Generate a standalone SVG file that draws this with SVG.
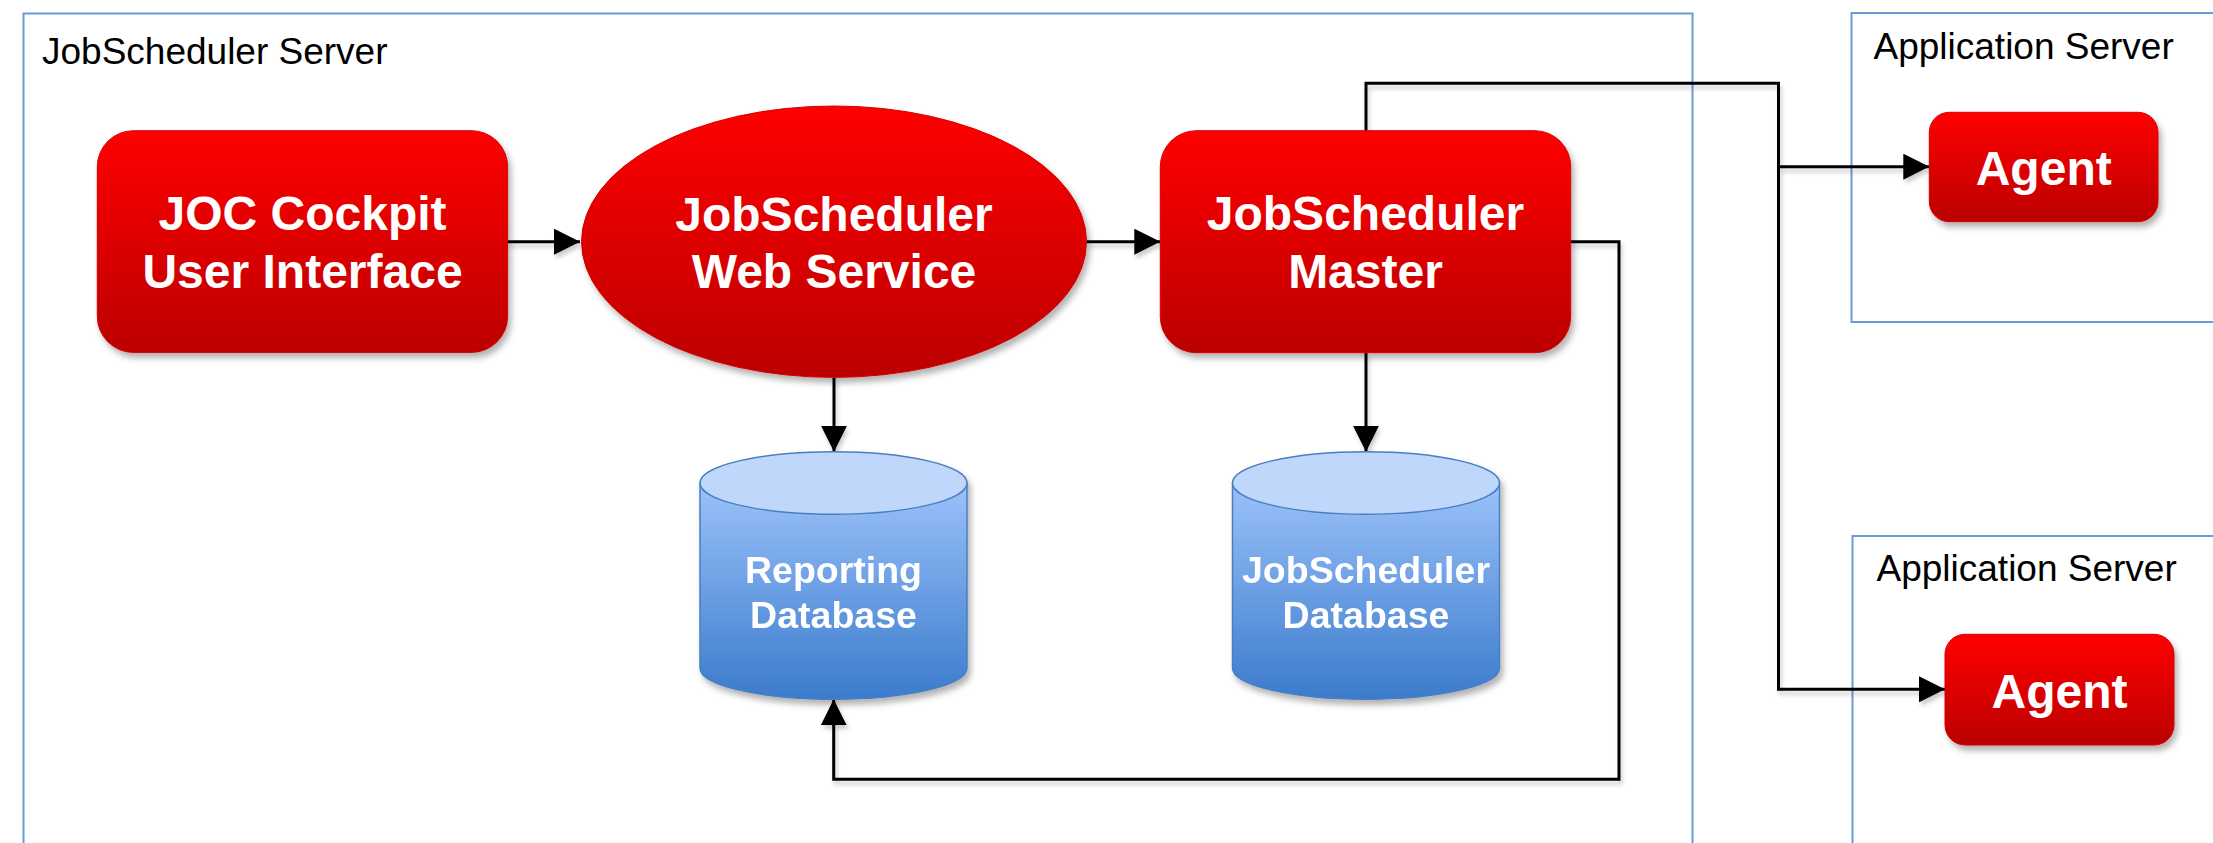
<svg xmlns="http://www.w3.org/2000/svg" width="2213" height="843" viewBox="0 0 2213 843">
<style>
.container{fill:#ffffff;stroke:#6b9ad6;stroke-width:2}
.clabel{font-family:"Liberation Sans",Arial,sans-serif;font-size:37px;fill:#000000}
.red{fill:url(#redGrad);stroke:#d40000;stroke-width:1;filter:url(#shadow)}
.rtext{font-family:"Liberation Sans",Arial,sans-serif;font-size:48px;font-weight:bold;fill:#ffffff;text-anchor:middle}
.dbtext{font-family:"Liberation Sans",Arial,sans-serif;font-size:37.5px;font-weight:bold;fill:#ffffff;text-anchor:middle}
.dbbody{fill:url(#blueGrad);stroke:#4a7fc0;stroke-width:1.5}
.dbtop{fill:#bed7fb;stroke:#4a7fc0;stroke-width:1.5}
.conn{fill:none;stroke:#000000;stroke-width:3}
</style>
<defs>
<linearGradient id="redGrad" x1="0" y1="0" x2="0" y2="1">
<stop offset="0" stop-color="#ff0000"/>
<stop offset="1" stop-color="#bb0000"/>
</linearGradient>
<linearGradient id="blueGrad" x1="0" y1="0" x2="0" y2="1">
<stop offset="0" stop-color="#9bc2fa"/>
<stop offset="1" stop-color="#3b7bcc"/>
</linearGradient>
<filter id="shadow" x="-10%" y="-10%" width="130%" height="130%">
<feDropShadow dx="3" dy="5" stdDeviation="3" flood-color="#000000" flood-opacity="0.3"/>
</filter>
<filter id="lshadow" x="-5%" y="-5%" width="110%" height="110%">
<feDropShadow dx="2" dy="4" stdDeviation="2" flood-color="#000000" flood-opacity="0.2"/>
</filter>
<marker id="arrow" markerUnits="userSpaceOnUse" markerWidth="26" markerHeight="26" refX="26" refY="13" orient="auto">
<path d="M0,0 L26,13 L0,26 Z" fill="#000000"/>
</marker>
</defs>

<g id="jobscheduler-server">
<rect class="container" x="23.5" y="13.5" width="1669" height="850"/>
<text class="clabel" x="42" y="64">JobScheduler Server</text>
</g>
<g id="application-server-1">
<rect class="container" x="1851.5" y="13" width="380" height="309"/>
<text class="clabel" x="1873.5" y="59">Application Server</text>
</g>
<g id="application-server-2">
<rect class="container" x="1852.5" y="536" width="380" height="330"/>
<text class="clabel" x="1876.5" y="580.5">Application Server</text>
</g>

<g id="connectors" filter="url(#lshadow)">
<path class="conn" d="M507.6,241.7 L580,241.7" marker-end="url(#arrow)"/>
<path class="conn" d="M1086.6,241.7 L1160.3,241.7" marker-end="url(#arrow)"/>
<path class="conn" d="M834,377.3 L834,451.7" marker-end="url(#arrow)"/>
<path class="conn" d="M1366,352.7 L1366,451.7" marker-end="url(#arrow)"/>
<path class="conn" d="M1366,130.7 L1366,83.3 L1778.5,83.3 L1778.5,166.7 L1929.3,166.7" marker-end="url(#arrow)"/>
<path class="conn" d="M1778.5,166.7 L1778.5,689.3 L1945,689.3" marker-end="url(#arrow)"/>
<path class="conn" d="M1570.7,241.7 L1619,241.7 L1619,779.3 L833.7,779.3 L833.7,699.3" marker-end="url(#arrow)"/>
</g>

<g id="joc-cockpit">
<rect class="red" x="97.3" y="130.7" width="410.3" height="221.7" rx="36" ry="36"/>
<text class="rtext" x="302.5" y="230">JOC Cockpit</text>
<text class="rtext" x="302.5" y="288">User Interface</text>
</g>
<g id="web-service">
<ellipse class="red" cx="834" cy="241.7" rx="252.5" ry="135.7"/>
<text class="rtext" x="834" y="230.5">JobScheduler</text>
<text class="rtext" x="834" y="288.3">Web Service</text>
</g>
<g id="master">
<rect class="red" x="1160.3" y="130.7" width="410.4" height="222" rx="36" ry="36"/>
<text class="rtext" x="1365.5" y="230">JobScheduler</text>
<text class="rtext" x="1365.5" y="288">Master</text>
</g>
<g id="agent-1">
<rect class="red" x="1929.3" y="112.3" width="228.7" height="109.4" rx="20" ry="20"/>
<text class="rtext" x="2043.7" y="185">Agent</text>
</g>
<g id="agent-2">
<rect class="red" x="1945" y="634.3" width="229" height="110.7" rx="20" ry="20"/>
<text class="rtext" x="2059.5" y="708.3">Agent</text>
</g>
<g id="reporting-db" filter="url(#shadow)">
<path class="dbbody" d="M700,483 L700,668 A133.5,31.3 0 0 0 967,668 L967,483 Z"/>
<ellipse class="dbtop" cx="833.5" cy="483" rx="133.5" ry="31.3"/>
<text class="dbtext" x="833.5" y="583">Reporting</text>
<text class="dbtext" x="833.5" y="628">Database</text>
</g>
<g id="jobscheduler-db" filter="url(#shadow)">
<path class="dbbody" d="M1232.5,483 L1232.5,668 A133.5,31.3 0 0 0 1499.5,668 L1499.5,483 Z"/>
<ellipse class="dbtop" cx="1366" cy="483" rx="133.5" ry="31.3"/>
<text class="dbtext" x="1366" y="583">JobScheduler</text>
<text class="dbtext" x="1366" y="628">Database</text>
</g>
</svg>
